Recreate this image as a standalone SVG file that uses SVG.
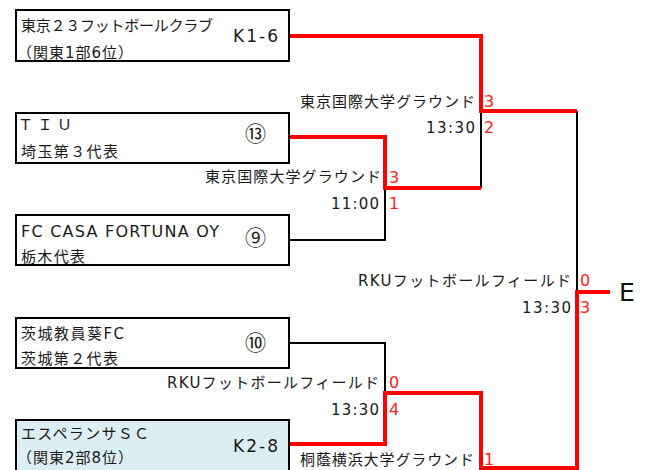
<svg xmlns="http://www.w3.org/2000/svg" width="651" height="470" viewBox="0 0 651 470">
<style>
.box{fill:#fff;stroke:#000;stroke-width:2}
.box.hl{fill:#dbeef4}
.t{font-family:"DejaVu Sans","Noto Sans CJK JP",sans-serif;fill:#1a1a1a}
.bx{font-size:15px}
.seed{font-size:17px}
.circ{font-size:21px;font-family:"Noto Sans CJK JP",sans-serif;fill:#1a1a1a}
.lbl{font-size:15px}
.sc{font-family:"DejaVu Sans",sans-serif;font-size:16px;fill:#ff2020}
.E{font-family:"DejaVu Sans",sans-serif;font-size:25px;fill:#111}
.bl{fill:none;stroke:#000;stroke-width:2}
.rd{fill:none;stroke:#ff0000;stroke-width:4}
</style>
<rect width="651" height="470" fill="#fff"/>
<g id="connectors">
<polyline class="bl" points="289,240 385,240 385,188"/>
<polyline class="bl" points="481,111 481,188"/>
<polyline class="bl" points="577,111 577,292"/>
<polyline class="bl" points="289,343 385,343 385,393"/>
<polyline class="rd" points="289,36 481,36 481,111 577,111"/>
<polyline class="rd" points="289,137 385,137 385,188 481,188"/>
<polyline class="rd" points="289,444 385,444 385,393 481,393 481,468 577,468 577,292 610,292"/>
</g>
<g id="team1">
<rect class="box" x="16" y="10" width="273" height="51"/>
<text class="t bx" x="21" y="31" textLength="192" lengthAdjust="spacing">東京２３フットボールクラブ</text>
<text class="t bx" x="17" y="58" textLength="116" lengthAdjust="spacing">（関東1部6位）</text>
<text class="t seed" x="233" y="42" textLength="45" lengthAdjust="spacing">K1-6</text>
</g>
<g id="team2">
<rect class="box" x="16" y="113" width="273" height="50"/>
<text class="t bx" x="18" y="130" textLength="54" lengthAdjust="spacing">ＴＩＵ</text>
<text class="t bx" x="21" y="157" textLength="97" lengthAdjust="spacing">埼玉第３代表</text>
<text class="circ" x="245" y="141">⑬</text>
</g>
<g id="team3">
<rect class="box" x="16" y="215" width="273" height="50"/>
<text class="t bx" x="21" y="237" textLength="198" lengthAdjust="spacing" style="font-size:16px">FC CASA FORTUNA OY</text>
<text class="t bx" x="21" y="262" textLength="64" lengthAdjust="spacing">栃木代表</text>
<text class="circ" x="245" y="245">⑨</text>
</g>
<g id="team4">
<rect class="box" x="16" y="318" width="273" height="50"/>
<text class="t bx" x="21" y="339" textLength="103" lengthAdjust="spacing">茨城教員葵FC</text>
<text class="t bx" x="21" y="364" textLength="97" lengthAdjust="spacing">茨城第２代表</text>
<text class="circ" x="245" y="350">⑩</text>
</g>
<g id="team5">
<rect class="box hl" x="16" y="420" width="273" height="60"/>
<text class="t bx" x="21" y="439" textLength="128" lengthAdjust="spacing">エスペランサＳＣ</text>
<text class="t bx" x="17" y="463" textLength="116" lengthAdjust="spacing">（関東2部8位）</text>
<text class="t seed" x="233" y="452" textLength="45" lengthAdjust="spacing">K2-8</text>
</g>
<g id="match-qf1">
<text class="t lbl" x="205" y="182" textLength="176" lengthAdjust="spacing">東京国際大学グラウンド</text>
<text class="t lbl" x="331" y="209" textLength="48" lengthAdjust="spacing">11:00</text>
<text class="sc" x="389" y="183">3</text>
<text class="sc" x="389" y="209">1</text>
</g>
<g id="match-sf1">
<text class="t lbl" x="300" y="107" textLength="175" lengthAdjust="spacing">東京国際大学グラウンド</text>
<text class="t lbl" x="426" y="133" textLength="49" lengthAdjust="spacing">13:30</text>
<text class="sc" x="484" y="107">3</text>
<text class="sc" x="484" y="133">2</text>
</g>
<g id="match-qf2">
<text class="t lbl" x="167" y="388" textLength="212" lengthAdjust="spacing">RKUフットボールフィールド</text>
<text class="t lbl" x="331" y="415" textLength="48" lengthAdjust="spacing">13:30</text>
<text class="sc" x="389" y="388">0</text>
<text class="sc" x="389" y="415">4</text>
</g>
<g id="match-sf2">
<text class="t lbl" x="300" y="465" textLength="174" lengthAdjust="spacing">桐蔭横浜大学グラウンド</text>
<text class="sc" x="484" y="465">1</text>
</g>
<g id="match-final">
<text class="t lbl" x="358" y="286" textLength="213" lengthAdjust="spacing">RKUフットボールフィールド</text>
<text class="t lbl" x="522" y="313" textLength="49" lengthAdjust="spacing">13:30</text>
<text class="sc" x="580" y="286">0</text>
<text class="sc" x="580" y="313">3</text>
</g>
<g id="label-E">
<text class="E" x="619" y="301">E</text>
</g>
</svg>
